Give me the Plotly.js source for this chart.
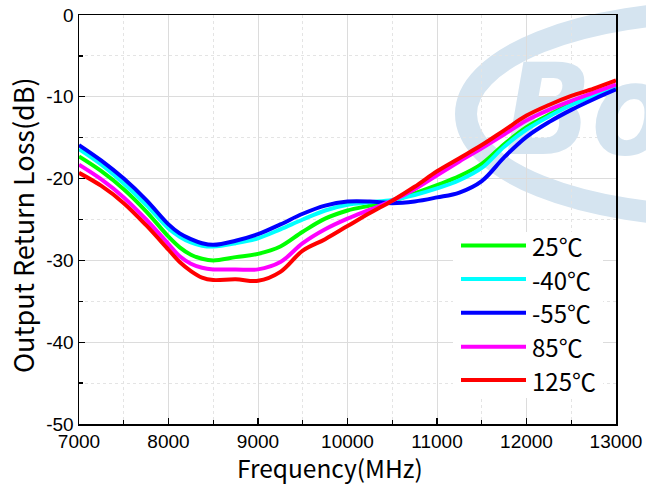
<!DOCTYPE html>
<html>
<head>
<meta charset="utf-8">
<script src="https://cdn.plot.ly/plotly-3.0.1.min.js"></script>
<style>html,body{margin:0;padding:0;background:#fff;}#chart{width:646px;height:484px;}</style>
</head>
<body>
<div id="chart"></div>
<script>
// ---- data ----
const freq = [7000, 7250, 7500, 7750, 8000, 8125, 8250, 8375, 8500, 8750, 9000, 9250, 9500, 9750, 10000, 10250, 10500, 10750, 11000, 11250, 11500, 11750, 12000, 12250, 12500, 12750, 13000];
const seriesNames = ['25\u2103', '-40\u2103', '-55\u2103', '85\u2103', '125\u2103'];
const s25  = [-17.3, -19.1, -21.3, -24.0, -27.1, -28.4, -29.3, -29.8, -30.0, -29.6, -29.2, -28.3, -26.5, -24.9, -23.9, -23.3, -22.7, -21.8, -20.8, -19.7, -18.2, -15.8, -13.7, -12.2, -10.9, -9.8, -8.7];
const sM40 = [-16.4, -18.3, -20.6, -23.2, -26.1, -27.1, -27.8, -28.2, -28.3, -27.9, -27.3, -26.2, -25.0, -23.9, -23.2, -22.9, -22.6, -22.0, -21.2, -20.2, -18.7, -16.1, -14.0, -12.4, -11.0, -9.9, -8.8];
const sM55 = [-15.9, -17.8, -20.0, -22.6, -25.6, -26.7, -27.4, -27.9, -28.1, -27.6, -26.8, -25.6, -24.3, -23.3, -22.8, -22.8, -23.0, -22.8, -22.3, -21.7, -20.3, -17.4, -14.9, -13.1, -11.6, -10.3, -9.1];
const s85  = [-18.3, -20.1, -22.3, -25.0, -28.0, -29.5, -30.4, -30.9, -31.1, -31.1, -31.1, -30.2, -27.9, -26.2, -24.9, -23.8, -22.7, -21.3, -19.6, -17.9, -16.3, -14.6, -12.9, -11.6, -10.5, -9.5, -8.5];
const s125 = [-19.3, -20.9, -23.0, -25.7, -28.7, -30.2, -31.3, -32.1, -32.4, -32.3, -32.5, -31.4, -28.8, -27.4, -25.8, -24.2, -22.7, -21.0, -19.1, -17.5, -15.9, -14.1, -12.3, -11.0, -9.9, -9.0, -8.0];
const seriesValues = [s25, sM40, sM55, s85, s125];
const seriesColors = ['#00ff00', '#00ffff', '#0000ff', '#ff00ff', '#ff0000'];
const xTicks = [7000, 8000, 9000, 10000, 11000, 12000, 13000];
const xTickText = ['7000', '8000', '9000', '10000', '11000', '12000', '13000'];
const yTicks = [0, -10, -20, -30, -40, -50];
const yTickText = ['0', '-10', '-20', '-30', '-40', '-50'];
const xTitle = 'Frequency(MHz)';
const yTitle = 'Output Return Loss(dB)';
const watermarkText = 'Bo';

const WM = 'rgb(213,228,240)';
const titleFont = '"Noto Sans CJK SC", "Noto Sans", sans-serif';
const tickFont = '"Liberation Sans", Arial, sans-serif';

// plot area in pixels (for paper-coordinate helpers)
const PL = 79, PR = 616, PT = 15, PB = 424;
const px = v => (v - PL) / (PR - PL);
const py = v => (PB - v) / (PB - PT);

const traces = [];
// watermark text (drawn first, beneath curves)
traces.push({
  x: [11760], y: [-13.2], mode: 'text', text: [watermarkText],
  textposition: 'middle right', cliponaxis: false, hoverinfo: 'skip', showlegend: false,
  textfont: {family: '"Liberation Sans Narrow", "DejaVu Sans Condensed", "Liberation Sans", sans-serif', size: 126, color: WM, weight: 'bold', style: 'italic'}
});
seriesValues.forEach((vals, i) => {
  traces.push({
    x: freq, y: vals, type: 'scatter', mode: 'lines', name: seriesNames[i],
    line: {color: seriesColors[i], width: 4, shape: 'spline', smoothing: 1.0},
    showlegend: false
  });
});

const shapes = [
  {type: 'circle', xref: 'paper', yref: 'paper', x0: px(466), x1: px(974), y0: py(216), y1: py(12),
   line: {color: WM, width: 22}, fillcolor: 'rgba(0,0,0,0)', layer: 'below'},
  {type: 'rect', xref: 'paper', yref: 'paper', x0: px(453), x1: px(603), y0: py(398), y1: py(232),
   line: {width: 0}, fillcolor: '#ffffff', layer: 'above'}
];
const annotations = [
  {xref: 'paper', yref: 'paper', x: px(329.5), y: py(467), xanchor: 'center', yanchor: 'middle',
   text: xTitle, showarrow: false, borderpad: 0, font: {family: titleFont, size: 24.5, color: '#000'}},
  {xref: 'paper', yref: 'paper', x: px(22), y: py(225), xanchor: 'center', yanchor: 'middle', textangle: -90,
   text: yTitle, showarrow: false, font: {family: titleFont, size: 27, color: '#000'}}
];
const legendRows = [245.5, 279, 312.7, 346.7, 380];
seriesNames.forEach((nm, i) => {
  const yp = py(legendRows[i]);
  shapes.push({type: 'line', xref: 'paper', yref: 'paper', x0: px(461), x1: px(526), y0: yp, y1: yp,
    line: {color: seriesColors[i], width: 4}, layer: 'above'});
  annotations.push({xref: 'paper', yref: 'paper', x: px(530), y: yp, xanchor: 'left', yanchor: 'middle',
    text: nm, showarrow: false, font: {family: titleFont, size: 24, color: '#000'}});
});

const layout = {
  width: 646, height: 484,
  margin: {l: PL, r: 646 - PR, t: PT, b: 484 - PB, pad: 0},
  paper_bgcolor: '#ffffff', plot_bgcolor: 'rgba(0,0,0,0)',
  showlegend: false,
  xaxis: {
    range: [7000, 13000], tickvals: xTicks, ticktext: xTickText,
    showline: true, linecolor: '#000', linewidth: 1.5, mirror: true,
    ticks: 'inside', ticklen: 6, tickcolor: '#000', tickwidth: 1.3,
    showgrid: true, gridcolor: '#dcdcdc', gridwidth: 1,
    minor: {dtick: 500, ticks: 'inside', ticklen: 4, tickcolor: '#000', showgrid: true, gridcolor: '#e4e4e4', griddash: 'dot', gridwidth: 1},
    tickfont: {family: tickFont, size: 19, color: '#000'},
    zeroline: false, automargin: false
  },
  yaxis: {
    range: [-50, 0], tickvals: yTicks, ticktext: yTickText,
    showline: true, linecolor: '#000', linewidth: 1.5, mirror: true,
    ticks: 'inside', ticklen: 6, tickcolor: '#000', tickwidth: 1.3,
    showgrid: true, gridcolor: '#dcdcdc', gridwidth: 1,
    minor: {dtick: 5, ticks: 'inside', ticklen: 4, tickcolor: '#000', showgrid: true, gridcolor: '#e4e4e4', griddash: 'dot', gridwidth: 1},
    tickfont: {family: tickFont, size: 19, color: '#000'},
    zeroline: false, automargin: false
  },
  shapes: shapes,
  annotations: annotations
};

Plotly.newPlot('chart', traces, layout, {staticPlot: true, displayModeBar: false});
</script>
</body>
</html>
